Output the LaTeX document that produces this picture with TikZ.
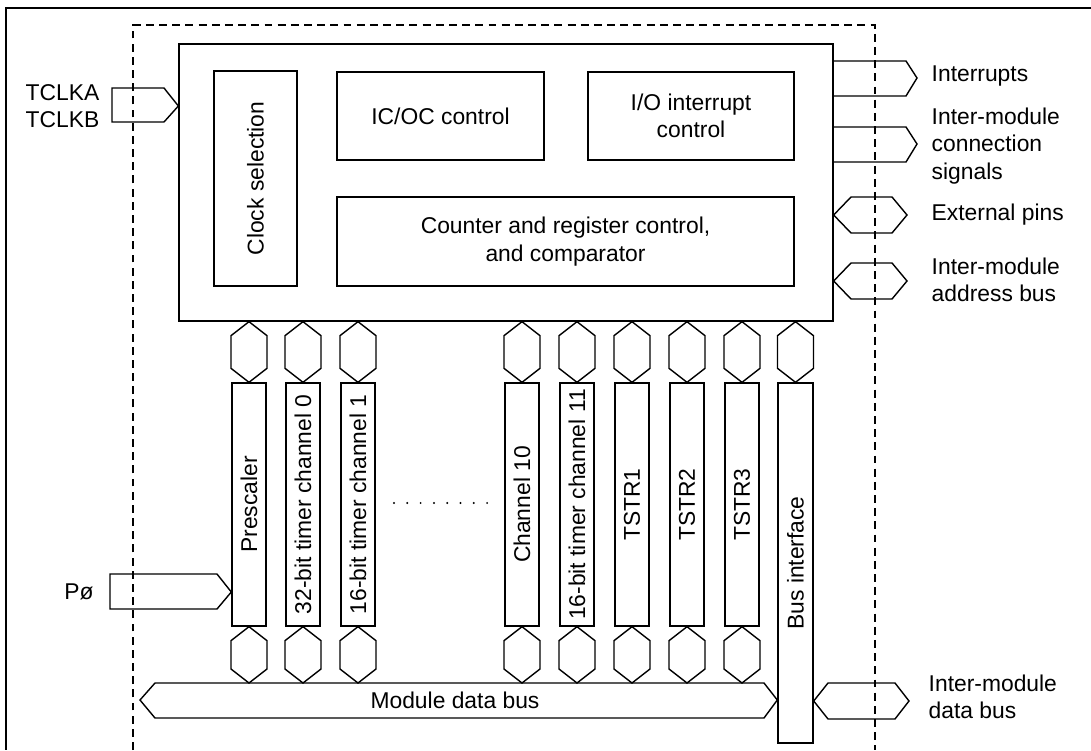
\documentclass[tikz,border=0pt]{standalone}
\usepackage{fontspec}
\setmainfont{Liberation Sans}
\usetikzlibrary{calc}

% vertical bus symbol between two tips
\newcommand{\vbus}[2]{%
    \draw (#1) -- ($(#1)+(18,14)$) -- ($(#2)+(18,-14)$) -- (#2)
          -- ($(#2)+(-18,-14)$) -- ($(#1)+(-18,14)$) -- cycle;}

\begin{document}
\begin{tikzpicture}[x=0.02cm, y=-0.02cm, line width=0.8pt,
      lbl/.style={font=\fontsize{13}{15.5}\selectfont, inner sep=0pt},
      blk/.style={draw, lbl, align=center},
      chan/.style={draw, lbl, minimum width=0.68cm, minimum height=4.86cm},
      bound/.style={dash pattern=on 4.5pt off 3pt}]

    \useasboundingbox (0,0) rectangle (1091,750);

    % frame and module boundary
    \draw (1091,8) -- (6,8) -- (6,750);
    \draw[bound] (133,750) -- (133,25) -- (875,25) -- (875,750);

    % control blocks
    \node[blk, minimum width=13.08cm, minimum height=5.54cm] (ctrl) at (506,182.5) {};
    \node[blk, minimum width=1.66cm, minimum height=4.30cm]  (clk)  at (255.5,178.5) {\rotatebox{90}{Clock selection}};
    \node[blk, minimum width=4.14cm, minimum height=1.76cm]  (icoc) at (440.5,116) {IC/OC control};
    \node[blk, minimum width=4.12cm, minimum height=1.76cm]  (ioint) at (691,116) {I/O interrupt\\control};
    \node[blk, minimum width=9.14cm, minimum height=1.78cm]  (cntr) at (565.5,241.5) {Counter and register control,\\and comparator};

    % channels and registers
    \coordinate (dbtop) at (140,683);
    \foreach \x/\nm/\txt in {249/pre/Prescaler, 303/chz/32-bit timer channel 0,
                             358/cha/16-bit timer channel 1, 522/chj/Channel 10,
                             577/chk/16-bit timer channel 11, 632/tsa/TSTR1,
                             687/tsb/TSTR2, 742/tsc/TSTR3} {
        \node[chan] (\nm) at (\x,504.5) {\rotatebox{90}{\txt}};
        \vbus{ctrl.south -| \nm.north}{\nm.north}
        \vbus{\nm.south}{dbtop -| \nm.south}
    }
    \node[chan, minimum width=0.70cm, minimum height=7.2cm] (bi) at (795.5,563) {\rotatebox{90}{Bus interface}};
    \vbus{ctrl.south -| bi.north}{bi.north}

    \foreach \i in {0,...,7}
        \fill (394+13.3*\i,503) circle[radius=0.022cm];

    % module data bus
    \node[lbl] (mdb) at (455,700) {Module data bus};
    \draw (140,700) -- (dbtop -| 155,0) -- (764,683) -- (bi.west |- mdb) -- (764,718) -- (155,718) -- cycle;

    % inputs
    \node[lbl, anchor=west, align=left] (tclk) at (25,106) {TCLKA\\TCLKB};
    \draw (112,88) -- (164,88) -- (ctrl.west |- tclk) -- (164,122) -- (112,122) -- cycle;
    \node[lbl] (pclk) at (79,592) {Pø};
    \draw (110,574) -- (217,574) -- (pre.west |- pclk) -- (217,609) -- (110,609) -- cycle;

    % outputs and buses
    \node[lbl, anchor=west] (irq) at (931,76) {Interrupts};
    \node[lbl, anchor=west, align=left] (imcs) at (931,146) {Inter-module\\connection\\signals};
    \node[lbl, anchor=west] (extp) at (931,215) {External pins};
    \node[lbl, anchor=west, align=left] (imab) at (931,280) {Inter-module\\address bus};
    \node[lbl, anchor=west, align=left] (imdb) at (928,697) {Inter-module\\data bus};

    \draw (ctrl.east |- 0,61) -- (906,61) -- (917,78) -- (906,96) -- (ctrl.east |- 0,96);
    \draw (ctrl.east |- 0,127) -- (906,127) -- (917,144) -- (906,162) -- (ctrl.east |- 0,162);
    \draw (ctrl.east |- extp) -- (851,197) -- (892,197) -- (907,215) -- (892,233) -- (851,233) -- cycle;
    \draw (ctrl.east |- 0,281) -- (851,263) -- (892,263) -- (907,281) -- (892,299) -- (851,299) -- cycle;
    \draw (bi.east |- 0,701) -- (828,683) -- (895,683) -- (909,701) -- (895,719) -- (828,719) -- cycle;

\end{tikzpicture}
\end{document}
